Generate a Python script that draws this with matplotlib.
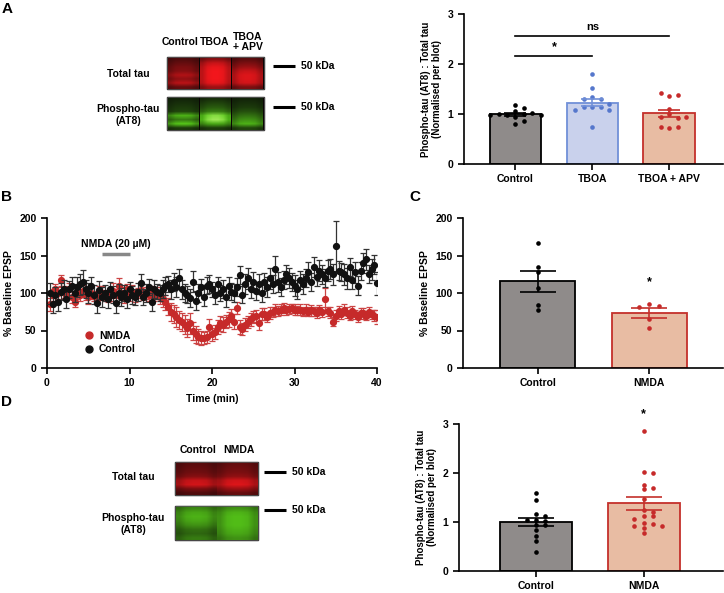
import numpy as np
import matplotlib
matplotlib.use("Agg")
import matplotlib.pyplot as plt
from matplotlib.lines import Line2D
from matplotlib.patches import Rectangle

plt.rcParams["font.family"] = ["Liberation Sans", "DejaVu Sans"]
plt.rcParams["font.weight"] = "bold"
plt.rcParams["axes.labelweight"] = "bold"

# ---- Panel A: TBOA western blot quantification
a_groups = ["Control", "TBOA", "TBOA + APV"]
a_means = [1.0, 1.23, 1.02]
a_sem = [0.03, 0.07, 0.07]
a_ctrl_pts = [1.07, 1.13, 1.18, 1.0, 0.99, 1.02, 1.0, 0.81, 0.87, 0.95, 0.99, 0.99]
a_tboa_pts = [1.8, 1.52, 1.35, 1.3, 1.3, 1.14, 1.15, 1.14, 1.09, 1.09, 0.74, 1.2]
a_apv_pts = [1.37, 1.39, 1.43, 1.0, 1.1, 0.92, 0.94, 0.94, 0.73, 0.75, 0.75]

# ---- Panel B: EPSP time course (one point every 20 s)
nmda_epsp = [85, 98, 105, 100, 117, 102, 98, 105, 95, 88, 100, 97,
             103, 98, 95, 100, 96, 92, 102, 100, 97, 95, 98, 103,
             97, 110, 100, 95, 105, 98, 102, 96, 100, 104, 98, 100,
             97, 102, 98, 100, 95, 92,
             88, 82, 75, 72, 68, 64, 62, 58, 54, 60, 50, 45,
             42, 40, 40, 42, 55, 45,
             48, 55, 60, 58, 62, 65, 70, 62, 80, 55, 52, 58,
             62, 65, 68, 70, 60, 72,
             72, 68, 74, 75, 77, 76, 78, 80, 77, 79, 80, 78,
             77, 78, 76, 78, 75, 77,
             76, 74, 78, 75, 92, 76, 74, 62, 70, 76, 72, 78,
             74, 70, 76, 72, 68, 74, 73, 70, 75, 72, 70, 68]
nmda_err = [9, 8, 7, 8, 7, 8, 7, 9, 8, 6, 8, 7, 8, 7, 9, 8, 7, 6, 8, 9, 7,
            7, 8, 10, 9, 10, 8, 8, 7, 9, 9, 8, 7, 8, 7, 8, 7, 8, 9, 8, 9, 10,
            10, 11, 12, 12, 13, 12, 12, 13, 12, 14, 12, 11, 10, 9, 8, 8, 10, 9,
            9, 9, 10, 10, 9, 10, 9, 10, 8, 9, 8, 9, 8, 9, 8, 8, 9, 8,
            8, 7, 8, 7, 8, 7, 7, 7, 6, 7, 6, 7, 6, 7, 6, 7, 6, 7,
            6, 7, 6, 7, 15, 6, 7, 6, 7, 7, 6, 7, 7, 6, 7, 6, 7, 6, 7, 6, 7, 6, 7, 9]
ctrl_epsp = [100, 86, 98, 88, 102, 105, 92, 105, 110, 100, 108, 112,
             115, 105, 100, 110, 98, 87, 104, 95, 100, 92, 105, 98,
             87, 100, 95, 100, 92, 105, 98, 95, 102, 113, 95, 100,
             108, 88, 105, 102, 100, 105,
             110, 112, 105, 115, 108, 120, 105, 100, 98, 94, 115, 90,
             100, 108, 95, 110, 112, 105,
             98, 112, 100, 105, 95, 110, 102, 100, 108, 124, 98, 112,
             120, 105, 115, 103, 112, 100,
             115, 108, 120, 112, 132, 115, 108, 118, 125, 120, 115, 110,
             105, 118, 112, 120, 128, 115,
             135, 122, 130, 125, 120, 130, 132, 125, 163, 130, 128, 125,
             120, 135, 118, 128, 110, 130, 140, 145, 125, 132, 138, 113]
ctrl_err = [14, 12, 10, 12, 11, 13, 12, 11, 12, 12, 13, 14, 16, 12, 13, 12, 13, 14,
            12, 13, 11, 12, 10, 11, 13, 12, 12, 11, 12, 10, 12, 11, 12, 12, 11, 12,
            11, 12, 12, 10, 11, 12,
            12, 11, 13, 12, 13, 12, 13, 12, 11, 12, 14, 13, 12, 11, 12, 11, 12, 10,
            12, 10, 11, 12, 13, 12, 11, 12, 12, 12, 11, 13, 14, 12, 13, 12, 13, 12,
            12, 13, 14, 12, 18, 13, 12, 12, 13, 13, 12, 14, 13, 12, 13, 12, 13, 12,
            13, 12, 14, 13, 12, 14, 13, 14, 33, 13, 12, 14, 14, 12, 13, 14, 13, 12,
            13, 14, 12, 14, 13, 15]
time_min = (np.arange(len(nmda_epsp)) + 1) / 3

# ---- Panel C: EPSP summary
c_groups = ["Control", "NMDA"]
c_means = [116, 73]
c_sem = [14, 6.5]
c_ctrl_pts = [167, 135, 128, 107, 84, 78]
c_nmda_pts = [85, 83, 81, 66, 53]

# ---- Panel D: NMDA western blot quantification
d_groups = ["Control", "NMDA"]
d_means = [1.0, 1.38]
d_sem = [0.09, 0.14]
d_ctrl_pts = [1.59, 1.45, 1.17, 1.13, 1.04, 1.02, 0.94, 0.94, 0.84, 0.72, 0.62, 0.38, 1.04]
d_nmda_pts = [2.85, 2.02, 2.01, 1.76, 1.7, 1.68, 1.47, 1.25, 1.21, 1.13, 1.12,
              1.06, 0.98, 0.95, 0.92, 0.91, 0.87, 0.77]

# blot lane intensity profiles (top -> bottom)
a_red_lanes = [[0.25, 0.35, 0.45, 0.5, 0.7, 0.55, 0.75, 0.35],
               [0.5, 0.8, 0.95, 1.0, 1.0, 1.0, 0.95, 0.6],
               [0.3, 0.45, 0.6, 0.8, 0.9, 0.9, 0.85, 0.45]]
a_green_lanes = [[0.1, 0.15, 0.2, 0.25, 0.75, 0.5, 0.85, 0.2],
                 [0.15, 0.25, 0.35, 0.5, 0.95, 1.0, 0.7, 0.2],
                 [0.1, 0.15, 0.2, 0.3, 0.45, 0.6, 0.75, 0.25]]
d_red_lanes = [[0.3, 0.35, 0.4, 0.5, 0.8, 0.85, 0.45, 0.25],
               [0.35, 0.4, 0.45, 0.55, 0.85, 0.9, 0.6, 0.35]]
d_green_lanes = [[0.55, 0.7, 0.75, 0.7, 0.6, 0.45, 0.4, 0.5],
                 [0.6, 0.75, 0.8, 0.8, 0.8, 0.75, 0.7, 0.6]]

GREY = "#8f8b8a"
BLUE_FILL, BLUE_EDGE, BLUE_DOT = "#c9d1ec", "#7190d8", "#5577cc"
SALMON, RED_EDGE, RED_DOT = "#e8bca3", "#c4302b", "#c62a2a"

W, H = 724, 593
fig = plt.figure(figsize=(W / 100, H / 100), dpi=100)

# overlay in pixel coordinates for blots and panel letters
ov = fig.add_axes([0, 0, 1, 1])
ov.set_xlim(0, W)
ov.set_ylim(H, 0)
ov.axis("off")


def px_axes(left, top, right, bottom):
    return fig.add_axes([left / W, 1 - bottom / H, (right - left) / W, (bottom - top) / H])


def swarm(vals, dx, dy):
    placed = []
    offs = []
    for v in vals:
        k = 0
        while True:
            cands = [0.0] if k == 0 else [k * dx, -k * dx]
            ok = None
            for c in cands:
                if all(abs(c - o) > dx * 0.9 or abs(v - w) > dy for o, w in placed):
                    ok = c
                    break
            if ok is not None:
                break
            k += 1
        placed.append((ok, v))
        offs.append(ok)
    return np.array(offs)


def style_axes(ax):
    for s in ["top", "right"]:
        ax.spines[s].set_visible(False)
    for s in ["left", "bottom"]:
        ax.spines[s].set_linewidth(1.2)
    ax.tick_params(width=1.2, length=4, labelsize=7.5)


def bar_panel(ax, means, sems, pts, fills, edges, dots, dx, dy, capsize):
    x = np.arange(len(means))
    for i in x:
        ax.bar(i, means[i], width=0.67, color=fills[i], edgecolor=edges[i], linewidth=1.3, zorder=1)
        ax.scatter(i + swarm(pts[i], dx, dy), pts[i], s=11, color=dots[i], zorder=2, linewidths=0)
        ax.errorbar(i, means[i], yerr=sems[i], fmt="none", ecolor=edges[i], elinewidth=1.2,
                    capsize=capsize, capthick=1.2, zorder=3)
    ax.set_xticks(x)


def blot(lanes, x0, x1, y0, y1, kind):
    ov.add_patch(Rectangle((x0, y0), x1 - x0, y1 - y0, color="#0a0505", zorder=1))
    n = len(lanes)
    lw = (x1 - x0) / n
    shape = np.array([0.75, 0.95, 1.0, 1.0, 0.95, 0.75])
    for i, prof in enumerate(lanes):
        img = np.outer(np.array(prof), shape)
        rgb = np.zeros(img.shape + (3,))
        if kind == "red":
            rgb[..., 0] = 0.1 + 0.85 * img
            rgb[..., 1] = 0.03 + 0.06 * img
            rgb[..., 2] = 0.03 + 0.08 * img
        else:
            hi = np.clip(img - 0.85, 0, None) * 3
            rgb[..., 0] = 0.04 + 0.35 * img + hi * 0.5
            rgb[..., 1] = 0.06 + 0.85 * img
            rgb[..., 2] = 0.03 + 0.08 * img + hi * 0.5
        rgb = np.clip(rgb, 0, 1)
        ov.imshow(rgb, extent=(x0 + i * lw + 0.7, x0 + (i + 1) * lw - 0.7, y1, y0),
                  interpolation="bilinear", aspect="auto", zorder=2)
    ov.add_patch(Rectangle((x0, y0), x1 - x0, y1 - y0, fill=False, ec="#555555", lw=0.6, zorder=3))


def kda(x0, x1, y):
    ov.plot([x0, x1], [y, y], color="black", lw=2.2, solid_capstyle="butt")
    ov.text(x1 + 6, y, "50 kDa", fontsize=7.5, va="center", ha="left")


# letters
for lab, (lx, ly) in zip("ABCD", [(7, 9), (7, 197), (415, 197), (7, 402)]):
    ov.text(lx, ly, lab, fontsize=11, ha="center", va="center")

# ---- A blot
ov.text(180, 42, "Control", fontsize=7.5, ha="center", va="center")
ov.text(215, 42, "TBOA", fontsize=7.5, ha="center", va="center")
ov.text(248, 42, "TBOA\n+ APV", fontsize=7.5, ha="center", va="center", linespacing=1.1)
blot(a_red_lanes, 167, 264, 57, 89, "red")
blot(a_green_lanes, 167, 264, 97, 130, "green")
ov.text(128, 74, "Total tau", fontsize=7.5, ha="center", va="center")
ov.text(128, 115, "Phospho-tau\n(AT8)", fontsize=7.5, ha="center", va="center", linespacing=1.2)
kda(273, 295, 66)
kda(273, 295, 107)

# ---- D blot
ov.text(198, 450, "Control", fontsize=7.5, ha="center", va="center")
ov.text(239, 450, "NMDA", fontsize=7.5, ha="center", va="center")
blot(d_red_lanes, 175, 258, 462, 495, "red")
blot(d_green_lanes, 175, 258, 506, 540, "green")
ov.text(133, 477, "Total tau", fontsize=7.5, ha="center", va="center")
ov.text(133, 524, "Phospho-tau\n(AT8)", fontsize=7.5, ha="center", va="center", linespacing=1.2)
kda(264, 286, 472)
kda(264, 286, 510)

ylab_blot = "Phospho-tau (AT8) : Total tau\n(Normalised per blot)"

# ---- A bars
axA = px_axes(464, 14, 723, 164)
style_axes(axA)
bar_panel(axA, a_means, a_sem, [a_ctrl_pts, a_tboa_pts, a_apv_pts],
          [GREY, BLUE_FILL, SALMON], ["black", BLUE_EDGE, RED_EDGE],
          ["black", BLUE_DOT, RED_DOT], 0.11, 0.09, 8)
axA.set_xticklabels(a_groups)
axA.set_xlim(-0.67, 2.7)
axA.set_ylim(0, 3)
axA.set_yticks([0, 1, 2, 3])
axA.set_ylabel(ylab_blot, fontsize=7, linespacing=1.1)
axA.plot([0, 1], [2.17, 2.17], color="black", lw=1.2)
axA.text(0.5, 2.22, "*", fontsize=9, ha="center", va="bottom")
axA.plot([0, 2], [2.57, 2.57], color="black", lw=1.2)
axA.text(1, 2.64, "ns", fontsize=8, ha="center", va="bottom")

# ---- B time course
axB = px_axes(47, 218, 377, 368)
style_axes(axB)
axB.errorbar(time_min, nmda_epsp, yerr=nmda_err, fmt="o", ms=4.2, color=RED_DOT,
             ecolor="#cc4444", elinewidth=0.9, capsize=2.2, capthick=0.9, zorder=2)
axB.errorbar(time_min, ctrl_epsp, yerr=ctrl_err, fmt="o", ms=4.2, color="#111111",
             ecolor="#333333", elinewidth=0.9, capsize=2.2, capthick=0.9, zorder=3)
axB.set_xlim(0, 40)
axB.set_ylim(0, 200)
axB.set_xticks([0, 10, 20, 30, 40])
axB.set_yticks([0, 50, 100, 150, 200])
axB.set_xlabel("Time (min)", fontsize=7.5)
axB.set_ylabel("% Baseline EPSP", fontsize=7.5)
axB.plot([6.7, 10], [152, 152], color="#888888", lw=2.5, solid_capstyle="butt")
axB.text(8.3, 165, "NMDA (20 \u00b5M)", fontsize=7.5, ha="center", va="center")
handles = [Line2D([], [], marker="o", ls="none", ms=5, color=RED_DOT),
           Line2D([], [], marker="o", ls="none", ms=5, color="#111111")]
axB.legend(handles, ["NMDA", "Control"], loc="lower left", bbox_to_anchor=(0.11, 0.09),
           frameon=False, fontsize=7.5, handlelength=1, handletextpad=0.5,
           borderpad=0, borderaxespad=0, labelspacing=0.35)

# ---- C bars
axC = px_axes(463, 218, 723, 368)
style_axes(axC)
bar_panel(axC, c_means, c_sem, [c_ctrl_pts, c_nmda_pts], [GREY, SALMON],
          ["black", RED_EDGE], ["black", RED_DOT], 0.09, 5, 13)
axC.set_xticklabels(c_groups)
axC.set_xlim(-0.67, 1.66)
axC.set_ylim(0, 200)
axC.set_yticks([0, 50, 100, 150, 200])
axC.set_ylabel("% Baseline EPSP", fontsize=7.5)
axC.text(1, 106, "*", fontsize=9, ha="center", va="bottom")

# ---- D bars
axD = px_axes(459, 424, 723, 571)
style_axes(axD)
bar_panel(axD, d_means, d_sem, [d_ctrl_pts, d_nmda_pts], [GREY, SALMON],
          ["black", RED_EDGE], ["black", RED_DOT], 0.085, 0.08, 13)
axD.set_xticklabels(d_groups)
axD.set_xlim(-0.72, 1.74)
axD.set_ylim(0, 3)
axD.set_yticks([0, 1, 2, 3])
axD.set_ylabel(ylab_blot, fontsize=7, linespacing=1.1)
axD.text(1, 3.08, "*", fontsize=9, ha="center", va="bottom", clip_on=False)

fig.savefig("out.png", dpi=100)
